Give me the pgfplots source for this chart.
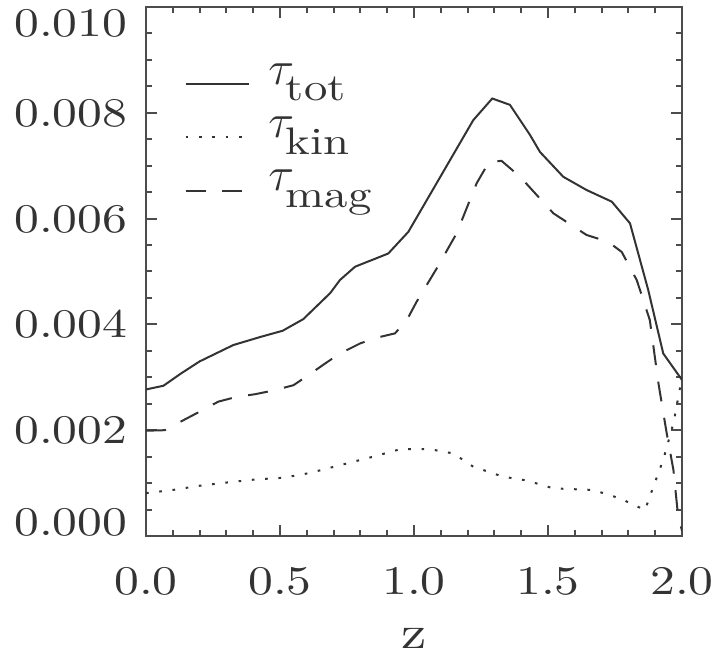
\documentclass[border=0pt]{standalone}
\usepackage{fontspec}
\usepackage{pgfplots}
\pgfplotsset{compat=1.18}
\newfontfamily\idl{lmroman10-regular}[Extension=.otf, FakeStretch=1.22]
\newcommand\legtau[1]{\kern5.5pt{\fontsize{15}{16}\selectfont$\tau$}\kern-2.5pt\raisebox{-5pt}{\fontsize{11.5}{12}\selectfont\idl #1}}

\begin{document}
\begin{tikzpicture}
\begin{axis}[
  scale only axis, width=160.8pt, height=158.7pt,
  xmin=0, xmax=2, ymin=0, ymax=0.010,
  axis line style={black!70, line width=0.8pt},
  tick style={black!70, line width=0.6pt},
  major tick length=3.2pt, minor tick length=1.8pt,
  xtick={0,0.5,1,1.5,2}, xticklabels={0.0,0.5,1.0,1.5,2.0},
  minor xtick={0,0.1,...,2.01},
  ytick={0,0.002,0.004,0.006,0.008,0.010},
  yticklabels={\raisebox{4.2pt}{0.000},0.002,0.004,0.006,0.008,\raisebox{-4.8pt}{0.010}},
  minor ytick={0,0.0005,...,0.01001},
  scaled y ticks=false,
  tick label style={font=\fontsize{12.2}{14}\selectfont\idl, text=black!80},
  xticklabel style={anchor=north, inner sep=0pt, yshift=-9.3pt},
  yticklabel style={anchor=east, inner sep=0pt, xshift=-5.4pt, text height=8.1pt, text depth=0pt},
  xlabel={\fontsize{14}{16}\selectfont\idl z},
  xlabel style={at={(axis description cs:0.5,0)}, anchor=north, inner sep=0pt, yshift=-27.6pt, text=black!80},
  legend image code/.code={\draw[#1] (0pt,0pt) -- (19pt,0pt);},
  legend style={draw=none, fill=none, inner sep=0pt, row sep=0pt,
    at={(axis description cs:0.071,0.906)}, anchor=north west,
    nodes={inner sep=0pt, text height=8pt, text depth=8pt, text=black!80}},
  legend cell align=left,
  every axis plot/.append style={black!80, line width=0.6pt},
]
\addplot[solid] coordinates {(0,0.00277) (0.065,0.00284) (0.13,0.00307) (0.2,0.00330) (0.326,0.00361)
  (0.425,0.00376) (0.51,0.00388) (0.587,0.00410) (0.687,0.00459) (0.724,0.00484) (0.78,0.00509)
  (0.904,0.00534) (0.979,0.00575) (1.221,0.00786) (1.292,0.00827) (1.358,0.00815) (1.433,0.00758)
  (1.47,0.00726) (1.557,0.00679) (1.644,0.00654) (1.738,0.00632) (1.806,0.00591) (1.874,0.00465)
  (1.93,0.00345) (2.0,0.00295)};
\addlegendentry{\legtau{tot}}
\addplot[dash pattern=on 0.8pt off 3.2pt] coordinates {(0,0.00081) (0.1,0.00087) (0.2,0.00095)
  (0.30,0.00101) (0.41,0.00107) (0.51,0.00110) (0.61,0.00119) (0.71,0.00132) (0.848,0.00150)
  (0.948,0.00164) (1.06,0.00164) (1.147,0.00156) (1.221,0.00131) (1.333,0.00112) (1.42,0.00105)
  (1.52,0.00090) (1.669,0.00087) (1.769,0.00071) (1.862,0.00049) (1.893,0.00093) (1.93,0.00144)
  (1.968,0.00213) (2.0,0.00300)};
\addlegendentry{\legtau{kin}}
\addplot[dash pattern=on 6pt off 5pt] coordinates {(0,0.00199) (0.07,0.00200) (0.14,0.00219)
  (0.2,0.00235) (0.27,0.00254) (0.338,0.00263) (0.407,0.00268) (0.475,0.00275) (0.55,0.00285)
  (0.606,0.00304) (0.668,0.00326) (0.724,0.00345) (0.799,0.00364) (0.854,0.00374) (0.929,0.00383)
  (0.973,0.00408) (1.01,0.00443) (1.085,0.00506) (1.159,0.00572) (1.234,0.00667) (1.281,0.00708)
  (1.327,0.00709) (1.396,0.00679) (1.52,0.00610) (1.644,0.00569) (1.725,0.00556) (1.775,0.00537)
  (1.831,0.00484) (1.88,0.00408) (1.912,0.00289) (1.943,0.00194) (1.968,0.00125) (1.985,0.00040)
  (2.0,0.00010)};
\addlegendentry{\legtau{mag}}
\coordinate (bl) at (axis description cs:-0.2724,-0.2231);
\coordinate (tr) at (axis description cs:1.0597,1.0132);
\end{axis}
\pgfresetboundingbox
\useasboundingbox (bl) rectangle (tr);
\end{tikzpicture}
\end{document}
